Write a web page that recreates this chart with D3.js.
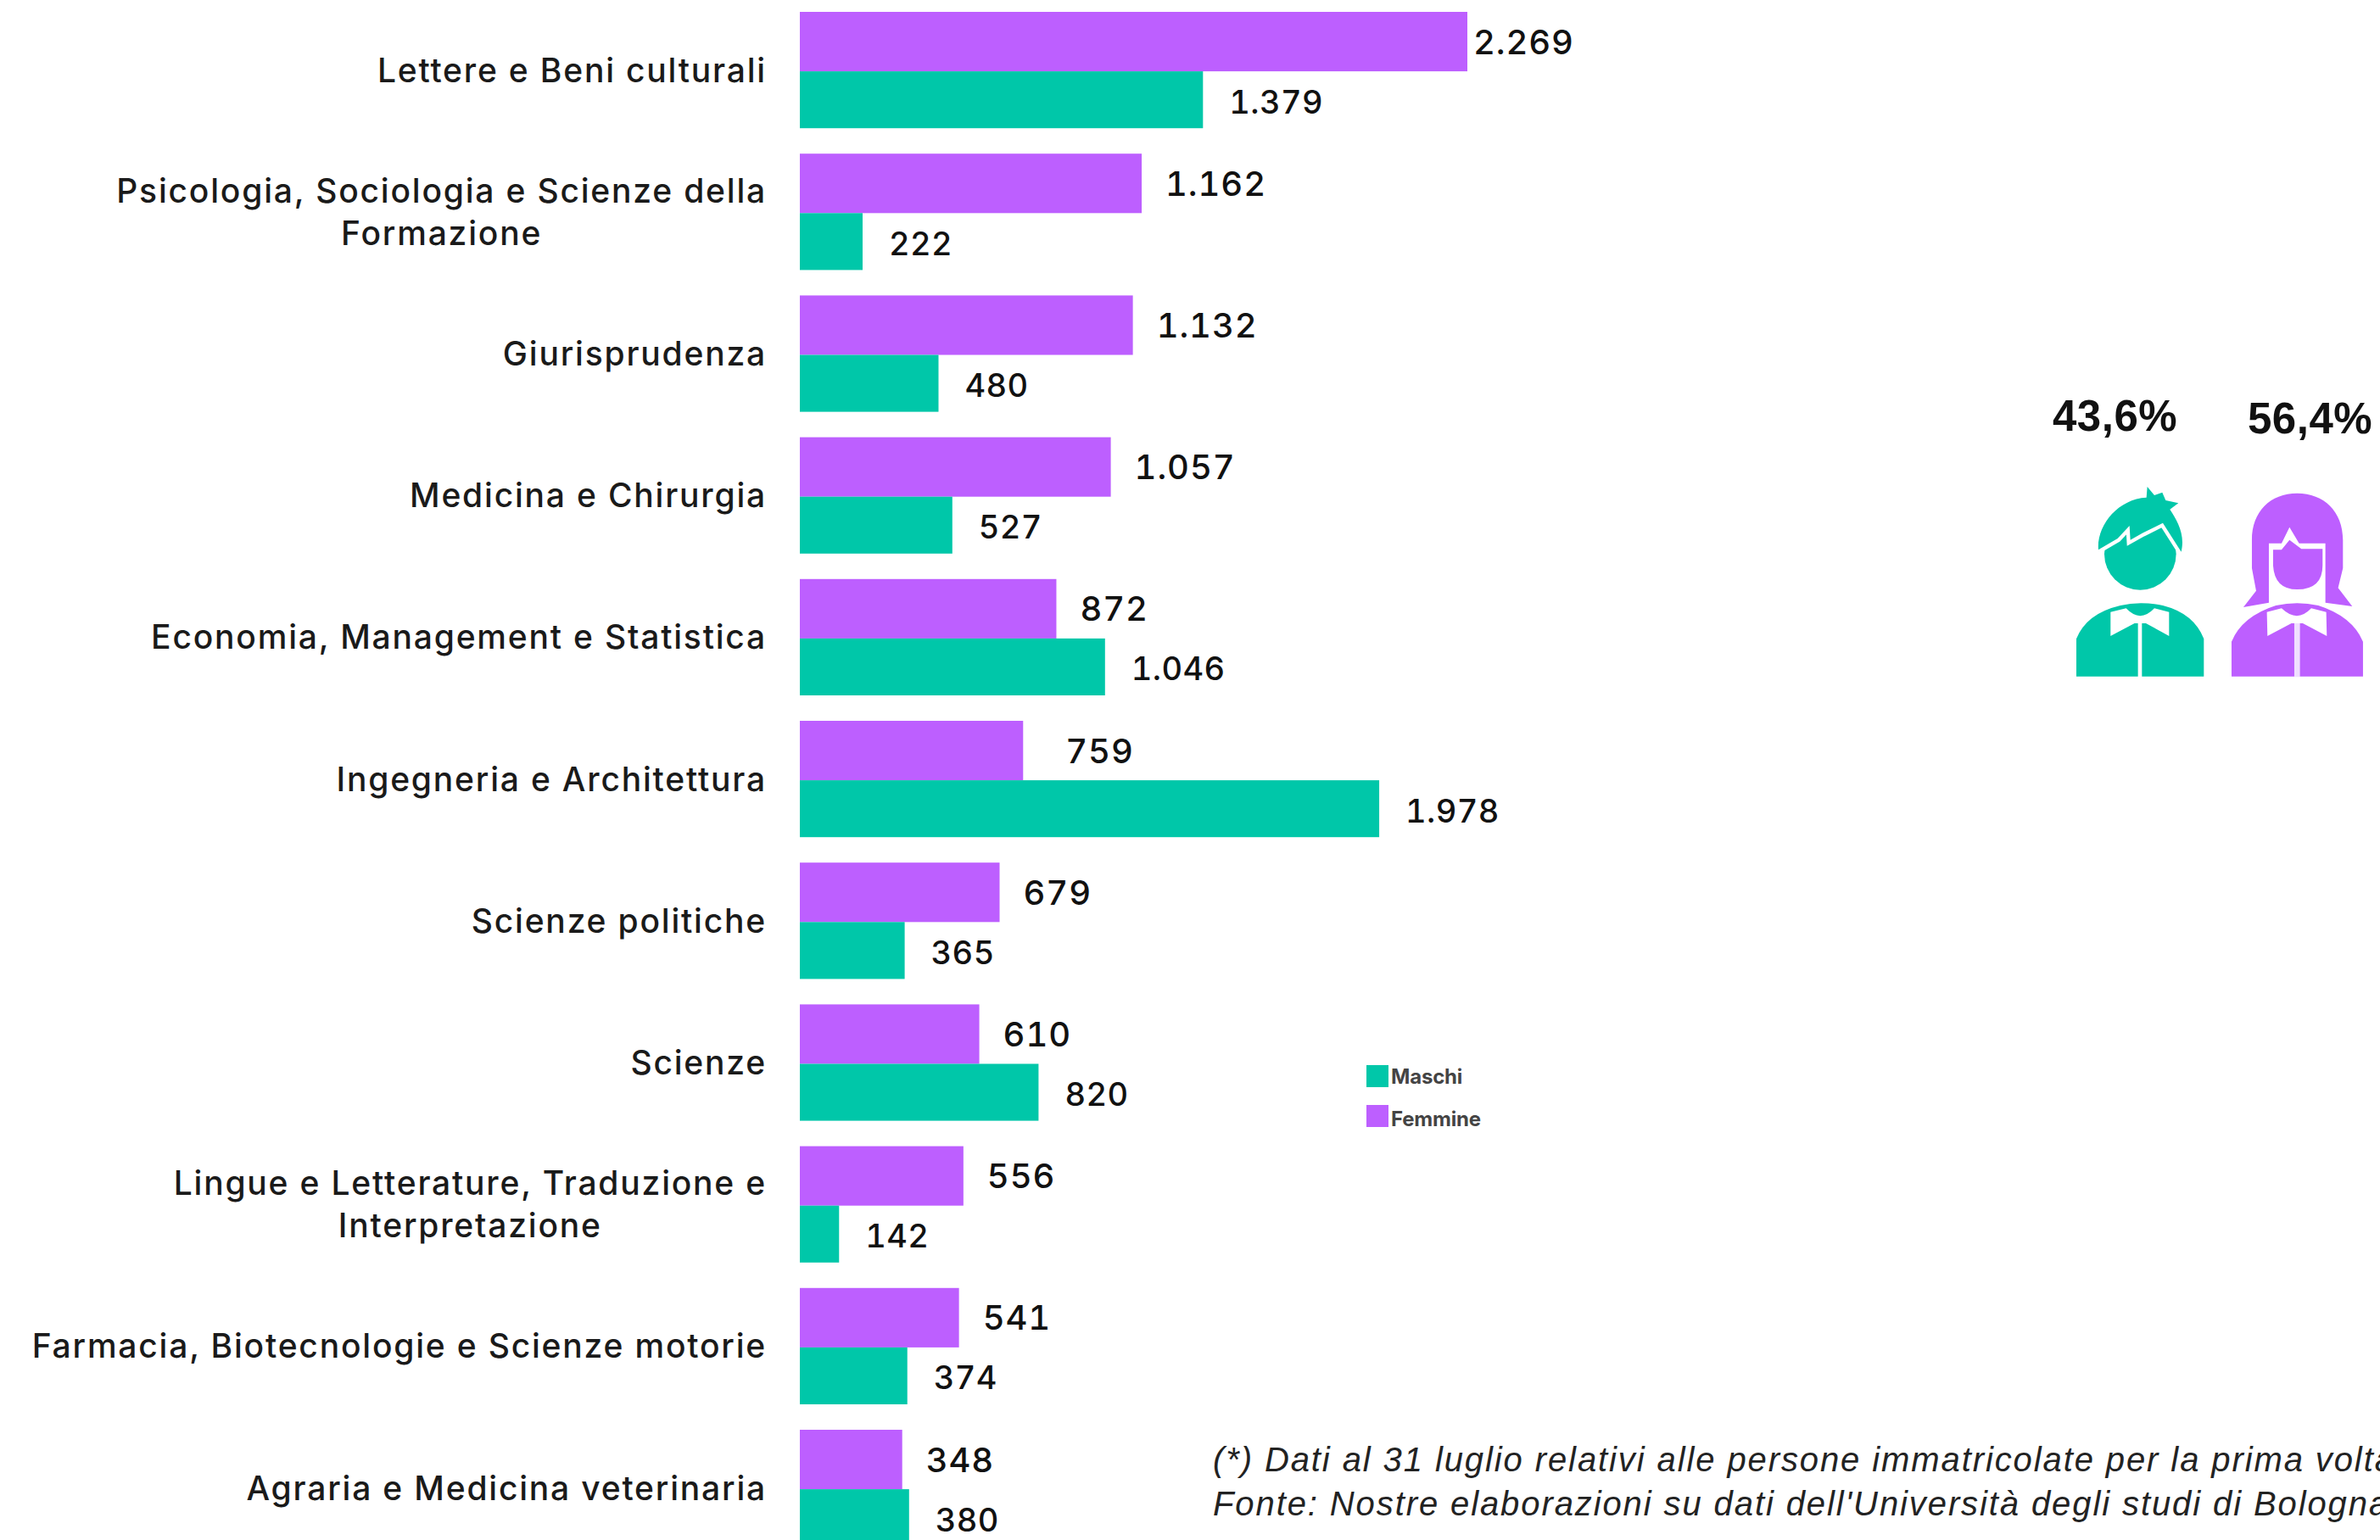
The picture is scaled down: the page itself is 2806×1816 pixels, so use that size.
<!DOCTYPE html>
<html>
<head>
<meta charset="utf-8">
<script src="https://cdn.jsdelivr.net/npm/d3@7"></script>
<style>
  html, body { margin: 0; padding: 0; background: #fff; overflow: hidden; }
  svg { display: block; }
  text { font-family: Inter, "Liberation Sans", sans-serif; fill: #111; }
  .cat text { font-size: 39px; font-weight: 500; letter-spacing: 1.8px; fill: #1a1a1a; }
  .val { font-size: 40px; font-weight: 500; letter-spacing: 0.9px; font-variant-numeric: tabular-nums; }
  .val.m { font-size: 38px; letter-spacing: 0.4px; }
  .pct { font-family: "Liberation Sans", sans-serif; font-size: 51px; font-weight: 700; letter-spacing: 0.5px; }
  .note { font-family: "Liberation Sans", sans-serif; font-style: italic; font-size: 40px; letter-spacing: 1.9px; fill: #222; }
  .leg { font-size: 24px; font-weight: 700; fill: #444; letter-spacing: -0.2px; }
</style>
</head>
<body>
<svg id="chart" width="2806" height="1816"></svg>
<script>
// categories, top to bottom ("|" = line break in the label)
var categories = [
  "Lettere e Beni culturali",
  "Psicologia, Sociologia e Scienze della|Formazione",
  "Giurisprudenza",
  "Medicina e Chirurgia",
  "Economia, Management e Statistica",
  "Ingegneria e Architettura",
  "Scienze politiche",
  "Scienze",
  "Lingue e Letterature, Traduzione e|Interpretazione",
  "Farmacia, Biotecnologie e Scienze motorie",
  "Agraria e Medicina veterinaria"
];
var femmine = [2269, 1162, 1132, 1057, 872, 759, 679, 610, 556, 541, 348];
var maschi = [1379, 222, 480, 527, 1046, 1978, 365, 820, 142, 374, 380];
var seriesNames = ["Femmine", "Maschi"];
var shares = ["43,6%", "56,4%"];
var notes = [
  "(*) Dati al 31 luglio relativi alle persone immatricolate per la prima volta",
  "Fonte: Nostre elaborazioni su dati dell'Università degli studi di Bologna"
];

var PURPLE = "#BD5FFF", TEAL = "#00C7A9";
var colors = { Femmine: PURPLE, Maschi: TEAL };

var svg = d3.select("#chart");
var itIT = d3.formatLocale({ decimal: ",", thousands: ".", grouping: [3], currency: ["", "€"] });
var fmt = itIT.format(",d");

var x = d3.scaleLinear().domain([0, 2269]).range([943, 1730]);
// step of 167px, bar pair 137px, the last pair runs off the bottom of the page
var y = d3.scaleBand().domain(categories).range([14, 14 + 167.2 * 10 + 137.2]).paddingInner(30 / 167.2).paddingOuter(0);
var inner = d3.scaleBand().domain(seriesNames).range([0, y.bandwidth()]);

var rows = categories.map(function(c, i) {
  return [
    { cat: c, name: "Femmine", value: femmine[i] },
    { cat: c, name: "Maschi", value: maschi[i] }
  ];
});

var groups = svg.selectAll("g.row")
  .data(rows)
  .enter().append("g")
    .attr("class", "row")
    .attr("transform", function(d) { return "translate(0," + y(d[0].cat) + ")"; });

// purple bars are a touch taller than the teal ones, teal also ends ~3px short
groups.selectAll("rect")
  .data(function(d) { return d; })
  .enter().append("rect")
    .attr("x", x(0))
    .attr("y", function(d) { return inner(d.name) + (d.name === "Maschi" ? 1.5 : 0); })
    .attr("width", function(d) { return x(d.value) - x(0) - (d.name === "Maschi" ? 3 : 0); })
    .attr("height", function(d) { return inner.bandwidth() + (d.name === "Maschi" ? -1.5 : 1.5); })
    .attr("fill", function(d) { return colors[d.name]; });

// a couple of labels sit closer / further than the usual 28px
function labelGap(d) {
  if (d.value === 2269) return 7;
  if (d.value === 759) return 50;
  return 28;
}

groups.selectAll("text")
  .data(function(d) { return d; })
  .enter().append("text")
    .attr("class", function(d) { return d.name === "Maschi" ? "val m" : "val"; })
    .attr("x", function(d) { return x(d.value) + labelGap(d); })
    .attr("y", function(d) { return inner(d.name) + inner.bandwidth() / 2 + (d.name === "Maschi" ? 3 : 1); })
    .attr("dy", "0.36em")
    .text(function(d) { return fmt(d.value); });

// category axis, labels split by hand after the axis has drawn them
var axis = svg.append("g")
  .attr("class", "cat")
  .attr("transform", "translate(904,0)")
  .call(d3.axisLeft(y).tickSize(0).tickPadding(0));
axis.select(".domain").remove();
axis.selectAll(".tick text").each(function(d) {
  var parts = d.split("|");
  var t = d3.select(this).text(null).attr("x", 0).attr("dy", null).attr("text-anchor", "end");
  if (parts.length === 1) {
    t.attr("y", 0).attr("dy", "0.36em").text(parts[0]);
    return;
  }
  t.attr("y", -25).attr("dy", "0.36em").text(parts[0]);
  var w = this.getComputedTextLength();
  d3.select(this.parentNode).append("text")
    .attr("x", -w / 2)
    .attr("y", 25)
    .attr("dy", "0.36em")
    .attr("text-anchor", "middle")
    .attr("fill", "#1a1a1a")
    .text(parts[1]);
});

// legend
var legend = svg.selectAll("g.leg-item")
  .data(["Maschi", "Femmine"])
  .enter().append("g")
    .attr("transform", function(d, i) { return "translate(1611," + (1256 + i * 47) + ")"; });
legend.append("rect").attr("width", 26).attr("height", 26).attr("fill", function(d) { return colors[d]; });
legend.append("text").attr("class", "leg").attr("x", 29).attr("y", function(d, i) { return 22 + i * 3; }).text(function(d) { return d; });

// percentages
svg.append("text").attr("class", "pct").attr("x", 2420).attr("y", 508).text(shares[0]);
svg.append("text").attr("class", "pct").attr("x", 2650).attr("y", 511).text(shares[1]);

// footnote
svg.selectAll("text.note")
  .data(notes)
  .enter().append("text")
    .attr("class", "note")
    .attr("x", 1430)
    .attr("y", function(d, i) { return 1735 + i * 52; })
    .text(function(d) { return d; });

// the two little figures (units = 1/3 px)
var icons = svg.append("g").attr("transform", "translate(2300,440) scale(0.3333)");

var boy = icons.append("g").attr("fill", TEAL);
boy.append("path").attr("d", "M444,1073 V940 Q480,850 600,822 Q670,805 750,822 Q860,850 895,940 V1073 Z");
boy.append("path").attr("fill", "#fff").attr("d", "M565,845 L620,832 Q670,885 720,832 L772,845 L772,930 L690,885 L650,885 L565,930 Z");
boy.append("rect").attr("fill", "#fff").attr("x", 662).attr("y", 880).attr("width", 14).attr("height", 195);
boy.append("circle").attr("cx", 670).attr("cy", 640).attr("r", 127);
boy.append("path")
  .attr("stroke", "#fff").attr("stroke-width", 26).attr("stroke-linejoin", "miter").attr("paint-order", "stroke")
  .attr("d", "M522,625 C515,540 590,445 692,440 L695,402 L720,432 L748,422 L760,450 L805,460 L775,482 C800,520 830,570 815,632 L750,530 L680,565 L635,590 L632,540 L590,585 Z");

var girl = icons.append("g").attr("fill", PURPLE);
girl.append("path").attr("d", "M1225,425 C1320,425 1387,490 1387,590 V690 L1370,760 L1420,825 L1325,812 V602 H1232 L1198,545 L1170,602 H1125 V812 L1035,828 L1080,770 L1065,690 V590 C1065,490 1130,425 1225,425 Z");
girl.append("path").attr("d", "M1140,625 H1170 L1198,590 L1240,622 H1315 V680 Q1315,765 1225,765 Q1145,765 1140,680 Z");
girl.append("path").attr("d", "M993,1073 V950 Q1030,860 1150,822 Q1225,805 1300,822 Q1420,860 1458,950 V1073 Z");
girl.append("path").attr("fill", "#fff").attr("d", "M1118,845 L1170,832 Q1225,885 1275,832 L1328,845 L1330,930 L1245,885 L1205,885 L1120,930 Z");
girl.append("rect").attr("fill", "#f0dfff").attr("x", 1215).attr("y", 885).attr("width", 20).attr("height", 190);
</script>
</body>
</html>
